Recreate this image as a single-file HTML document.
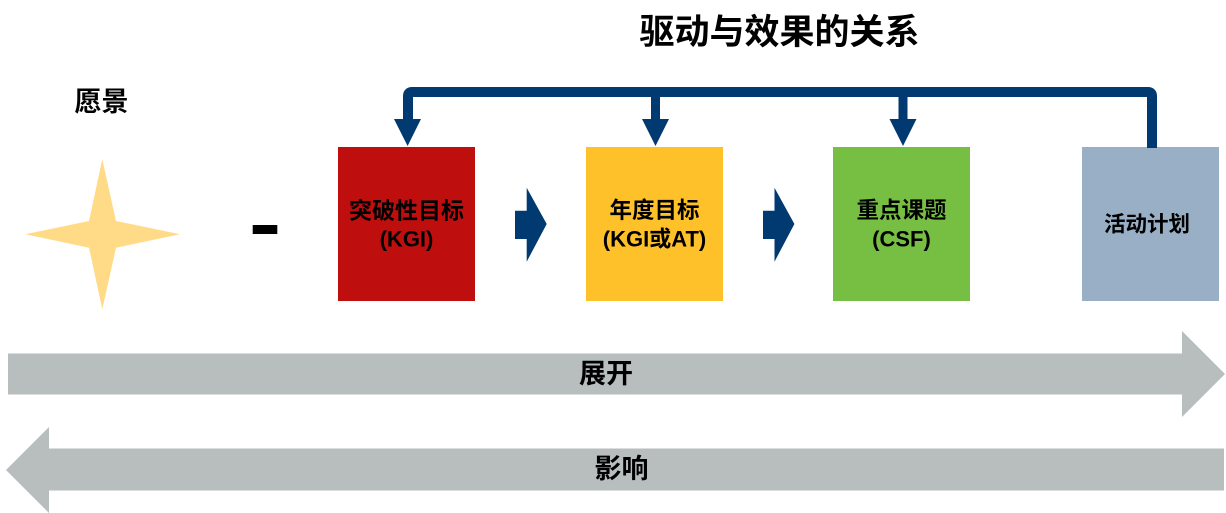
<!DOCTYPE html>
<html><head><meta charset="utf-8"><style>
html,body{margin:0;padding:0;background:#fff;width:1226px;height:513px;overflow:hidden}
svg{display:block}
text{font-family:"Liberation Sans","Noto Sans CJK SC",sans-serif;font-weight:bold;fill:#000}
</style></head><body>
<svg width="1226" height="513" viewBox="0 0 1226 513" xmlns="http://www.w3.org/2000/svg">
<!-- title -->
<text x="779.5" y="32.5" font-size="35" text-anchor="middle" dominant-baseline="central">驱动与效果的关系</text>
<!-- vision -->
<text x="101.5" y="102" font-size="27" text-anchor="middle" dominant-baseline="central">愿景</text>
<polygon points="102.3,159.3 116,221 180,234.3 116,247.7 102.3,309.3 89,247.7 25.3,234.3 89,221" fill="#FFDA87"/>
<rect x="252.7" y="225" width="24.6" height="9" fill="#000"/>
<!-- boxes -->
<rect x="338" y="147" width="137" height="154" fill="#BE0E0E"/>
<rect x="586" y="147" width="137" height="154" fill="#FFC12A"/>
<rect x="833" y="147" width="137" height="154" fill="#77BF43"/>
<rect x="1082" y="147" width="137" height="154" fill="#99AFC6"/>
<text x="406.5" y="210.5" font-size="23" text-anchor="middle" dominant-baseline="central">突破性目标</text>
<text x="406.5" y="239" font-size="22" text-anchor="middle" dominant-baseline="central">(KGI)</text>
<text x="654.5" y="210.5" font-size="22.5" text-anchor="middle" dominant-baseline="central">年度目标</text>
<text x="654.5" y="239" font-size="22" text-anchor="middle" dominant-baseline="central">(KGI或AT)</text>
<text x="901.5" y="210.5" font-size="22.5" text-anchor="middle" dominant-baseline="central">重点课题</text>
<text x="901.5" y="239" font-size="22" text-anchor="middle" dominant-baseline="central">(CSF)</text>
<text x="1147" y="224.5" font-size="21.5" text-anchor="middle" dominant-baseline="central">活动计划</text>
<!-- block arrows between boxes -->
<polygon points="515,210.7 526.7,210.7 526.7,187.7 546.7,224 526.7,261.7 526.7,239 515,239" fill="#003A70"/>
<polygon points="763,210.7 774.5,210.7 774.5,187.7 794.4,224 774.5,261.7 774.5,239 763,239" fill="#003A70"/>
<!-- feedback connector -->
<path d="M408,120 L408,96 Q408,92 412,92 L1148,92 Q1152,92 1152,96 L1152,148" fill="none" stroke="#003A70" stroke-width="10"/>
<line x1="655.5" y1="92" x2="655.5" y2="120" stroke="#003A70" stroke-width="9"/>
<line x1="903" y1="92" x2="903" y2="120" stroke="#003A70" stroke-width="9"/>
<polygon points="394,119 421,119 407.6,146" fill="#003A70"/>
<polygon points="642,119 669,119 655.5,146" fill="#003A70"/>
<polygon points="889.5,119 916.5,119 903,146" fill="#003A70"/>
<!-- big arrows -->
<polygon points="8,353.5 1182,353.5 1182,331 1225,374 1182,417 1182,394.5 8,394.5" fill="#B8BEBE"/>
<polygon points="1224,448.5 49,448.5 49,427 6,470 49,513 49,490.5 1224,490.5" fill="#B8BEBE"/>
<text x="606" y="374" font-size="27" text-anchor="middle" dominant-baseline="central">展开</text>
<text x="621.5" y="469" font-size="27" text-anchor="middle" dominant-baseline="central">影响</text>
</svg>
</body></html>
